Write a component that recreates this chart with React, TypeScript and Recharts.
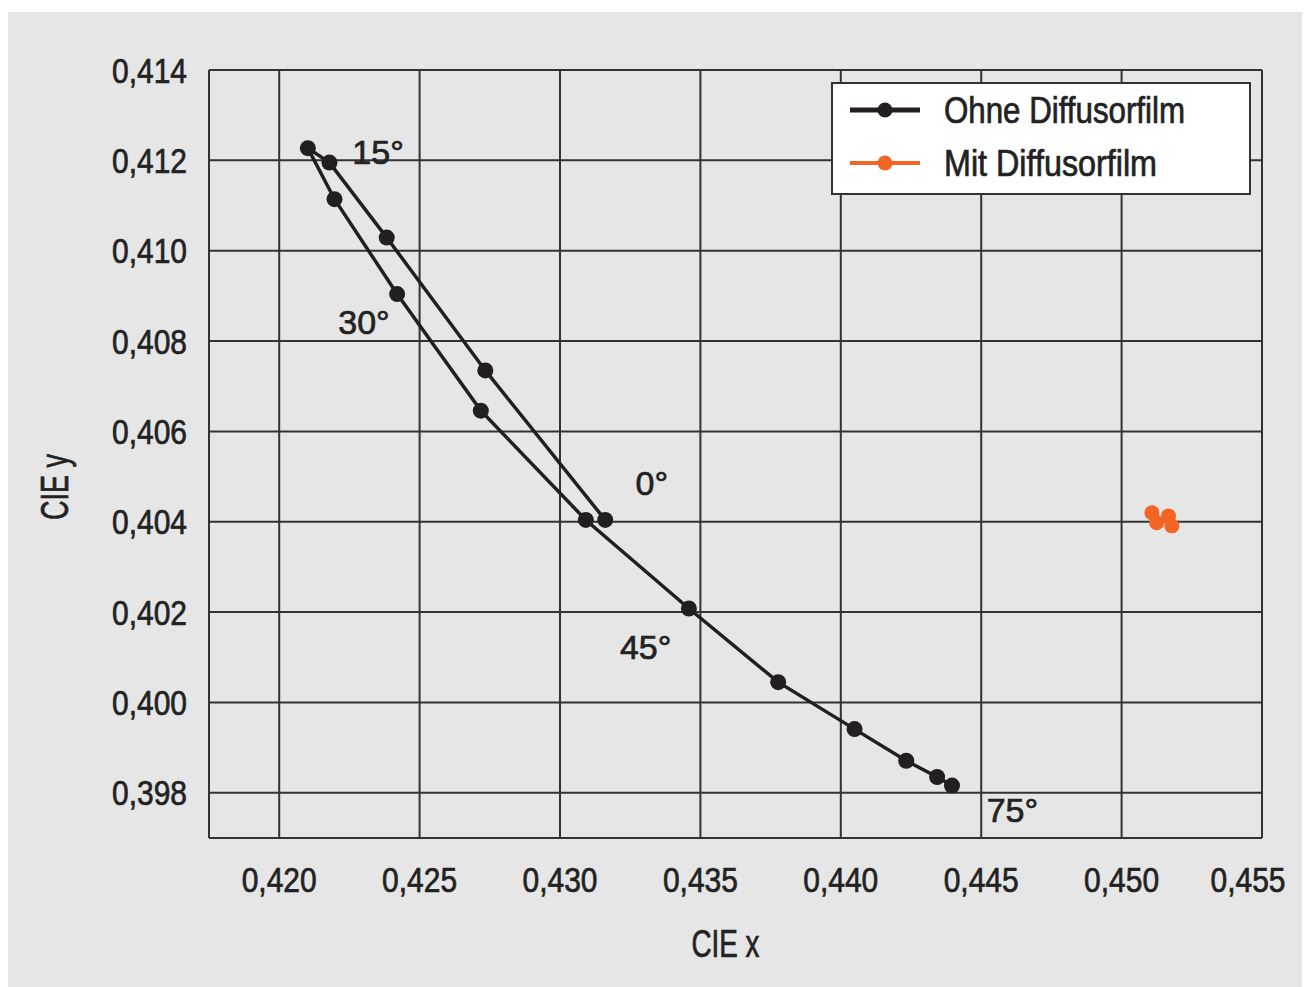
import React from "react"
import {
  CartesianGrid,
  Legend,
  ReferenceDot,
  Scatter,
  ScatterChart,
  XAxis,
  YAxis,
} from "recharts"

// CIE x / y measured points, path order as drawn
const ohneX = [0.43161, 0.42734, 0.42383, 0.42179, 0.42102, 0.42197, 0.4242, 0.42718, 0.43092, 0.43459, 0.43777, 0.44049, 0.44233, 0.44343, 0.44396]
const ohneY = [0.40404, 0.40735, 0.41029, 0.41195, 0.41227, 0.41114, 0.40904, 0.40646, 0.40404, 0.40208, 0.40045, 0.39941, 0.39871, 0.39835, 0.39816]

const mitX = [0.45108, 0.45125, 0.45167, 0.45179]
const mitY = [0.4042, 0.40398, 0.40413, 0.40391]

const xTicks = [0.42, 0.425, 0.43, 0.435, 0.44, 0.445, 0.45, 0.455]
const yTicks = [0.398, 0.4, 0.402, 0.404, 0.406, 0.408, 0.41, 0.412, 0.414]

const angleText = ["15°", "30°", "0°", "45°", "75°"]
const angleX = [0.42352, 0.42302, 0.43327, 0.43305, 0.44611]
const angleY = [0.41219, 0.40843, 0.40485, 0.40123, 0.39762]

const seriesNames = ["Ohne Diffusorfilm", "Mit Diffusorfilm"]

const BLACK = "#231f20"
const ORANGE = "#f26522"
const GRID = "#333333"
const TEXT = "#222"
const FONT = "'Liberation Sans', Arial, sans-serif"

const ohne = ohneX.map((x, i) => ({ x, y: ohneY[i] }))
const mit = mitX.map((x, i) => ({ x, y: mitY[i] }))
const angles = angleText.map((t, i) => ({ t, x: angleX[i], y: angleY[i] }))

const fmt = (v: number) => v.toFixed(3).replace(".", ",")

// the original face is a condensed grotesk, so squeeze text to the measured width
// and thicken it a little with a hairline stroke
const Narrow = ({ width, ...rest }: any) => (
  <text
    fontFamily={FONT}
    fill={TEXT}
    stroke={TEXT}
    strokeWidth={0.7}
    textLength={width}
    lengthAdjust="spacingAndGlyphs"
    dominantBaseline="central"
    {...rest}
  />
)

const XTick = (props: any) => {
  const { x, y, payload } = props
  const dx = payload.value === 0.455 ? -14 : 0
  return (
    <Narrow x={x + dx} y={y + 41} textAnchor="middle" fontSize={35} width={75}>
      {fmt(payload.value)}
    </Narrow>
  )
}

const YTick = (props: any) => {
  const { x, y, payload } = props
  return (
    <Narrow x={x} y={y} textAnchor="end" fontSize={35} width={75}>
      {fmt(payload.value)}
    </Narrow>
  )
}

const dot = (color: string, r: number) => (p: any) => <circle cx={p.cx} cy={p.cy} r={r} fill={color} />

const legendWidths = [241, 213]

const LegendBox = () => (
  <svg width={420} height={113} style={{ display: "block" }}>
    <rect x={1} y={1} width={418} height={111} fill="#fff" stroke={GRID} strokeWidth={2} />
    {seriesNames.map((name, i) => {
      const color = i === 0 ? BLACK : ORANGE
      const cy = 28 + i * 53
      return (
        <g key={name}>
          <line x1={19} y1={cy} x2={89} y2={cy} stroke={color} strokeWidth={i === 0 ? 5 : 4} />
          <circle cx={54} cy={cy} r={7.5} fill={color} />
          <Narrow x={113} y={cy} fontSize={36} width={legendWidths[i]}>
            {name}
          </Narrow>
        </g>
      )
    })}
  </svg>
)

export default function App() {
  return (
    <div style={{ background: "#e6e6e6", width: 1303, height: 975, marginTop: 4, marginLeft: -1 }}>
      <ScatterChart width={1303} height={975} margin={{ top: 58, right: 48, bottom: 79, left: 82 }}>
        <CartesianGrid stroke={GRID} strokeWidth={2} horizontalValues={yTicks} verticalValues={xTicks} />
        <XAxis
          type="number"
          dataKey="x"
          domain={[0.4175, 0.455]}
          ticks={xTicks}
          height={70}
          tickSize={0}
          tickMargin={0}
          tickLine={false}
          axisLine={{ stroke: GRID, strokeWidth: 2 }}
          tick={<XTick />}
          allowDataOverflow
          label={(p: any) => {
            const vb = p.viewBox
            return (
              <Narrow x={vb.x + vb.width / 2 - 10} y={vb.y + 106} textAnchor="middle" fontSize={38} width={68}>
                CIE x
              </Narrow>
            )
          }}
        />
        <YAxis
          type="number"
          dataKey="y"
          domain={[0.397, 0.414]}
          ticks={yTicks}
          width={120}
          tickSize={0}
          tickMargin={22}
          tickLine={false}
          axisLine={{ stroke: GRID, strokeWidth: 2 }}
          tick={<YTick />}
          allowDataOverflow
          label={(p: any) => {
            const vb = p.viewBox
            const cx = vb.x - 34
            const cy = vb.y + vb.height / 2 + 33
            return (
              <Narrow x={cx} y={cy} textAnchor="middle" fontSize={38} width={66} transform={`rotate(-90 ${cx} ${cy})`}>
                CIE y
              </Narrow>
            )
          }}
        />
        <Legend
          layout="vertical"
          align="center"
          verticalAlign="middle"
          content={<LegendBox />}
          wrapperStyle={{ left: 824, top: 70, width: 420, height: 113 }}
        />
        <Scatter
          name={seriesNames[0]}
          data={ohne}
          fill={BLACK}
          line={{ stroke: BLACK, strokeWidth: 3.5 }}
          lineJointType="linear"
          shape={dot(BLACK, 8)}
          isAnimationActive={false}
        />
        <Scatter name={seriesNames[1]} data={mit} fill={ORANGE} shape={dot(ORANGE, 7.5)} isAnimationActive={false} />
        {angles.map((a) => (
          <ReferenceDot
            key={a.t}
            x={a.x}
            y={a.y}
            r={0}
            shape={(p: any) => (
              <text
                x={p.cx}
                y={p.cy}
                textAnchor="middle"
                dominantBaseline="central"
                fontSize={34}
                fill={TEXT}
                stroke={TEXT}
                strokeWidth={0.7}
                fontFamily={FONT}
              >
                {a.t}
              </text>
            )}
          />
        ))}
      </ScatterChart>
    </div>
  )
}
